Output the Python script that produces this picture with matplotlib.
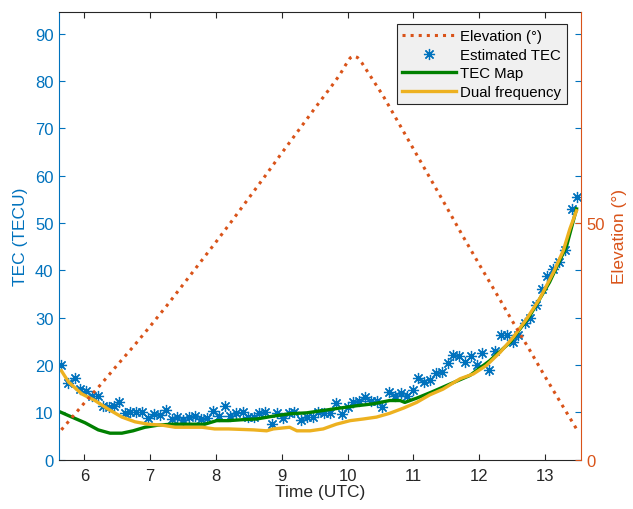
import matplotlib
matplotlib.use("Agg")
import matplotlib.pyplot as plt

plt.rcParams['font.family'] = ['Liberation Sans', 'DejaVu Sans']

# Estimated TEC (slant TEC from single-frequency estimate)
est_time = [5.65, 5.75, 5.85, 5.93, 6.02, 6.11, 6.20, 6.29, 6.38, 6.45,
            6.53, 6.62, 6.69, 6.78, 6.87, 6.97, 7.06, 7.15, 7.24, 7.33,
            7.41, 7.50, 7.59, 7.68, 7.77, 7.87, 7.95, 8.05, 8.14, 8.22,
            8.31, 8.41, 8.49, 8.58, 8.66, 8.75, 8.85, 8.93, 9.02, 9.11,
            9.19, 9.29, 9.38, 9.47, 9.55, 9.64, 9.73, 9.82, 9.91, 10.00,
            10.09, 10.18, 10.26, 10.36, 10.44, 10.53, 10.63, 10.72, 10.81, 10.90,
            10.99, 11.07, 11.16, 11.25, 11.35, 11.44, 11.53, 11.61, 11.70, 11.78,
            11.88, 11.96, 12.05, 12.15, 12.24, 12.33, 12.42, 12.51, 12.59, 12.69,
            12.77, 12.86, 12.95, 13.03, 13.12, 13.21, 13.30, 13.41, 13.48]
est_tec = [20.0, 16.1, 17.2, 14.9, 14.5, 13.5, 13.4, 11.3, 11.1, 11.3,
           12.1, 9.9, 10.0, 10.1, 10.0, 8.8, 9.6, 9.5, 10.5, 8.5,
           9.0, 8.4, 9.0, 9.3, 8.5, 8.8, 10.2, 9.3, 11.3, 9.3,
           9.9, 10.0, 9.0, 9.0, 9.8, 10.0, 7.5, 9.8, 8.8, 9.8,
           10.0, 8.4, 9.1, 9.1, 10.0, 9.8, 9.8, 12.0, 9.6, 11.1,
           12.1, 12.3, 13.2, 12.5, 12.5, 11.1, 14.4, 13.5, 14.0, 13.5,
           14.7, 17.3, 16.5, 16.9, 18.3, 18.6, 20.4, 22.2, 21.9, 20.6,
           21.9, 20.1, 22.6, 19.0, 23.0, 26.4, 26.4, 24.9, 26.4, 28.8,
           29.9, 32.7, 36.1, 38.9, 40.3, 41.7, 44.3, 53.0, 55.5]

# TEC from global ionosphere map
map_time = [5.63, 5.81, 6.01, 6.21, 6.39, 6.57, 6.74, 6.92, 7.12, 7.33,
            7.58, 7.83, 8.01, 8.19, 8.40, 8.62, 8.87, 9.12, 9.38, 9.63,
            9.88, 10.14, 10.39, 10.64, 10.80, 10.87, 11.05, 11.28, 11.56, 11.86,
            12.16, 12.47, 12.77, 13.07, 13.33, 13.48]
map_tec = [10.1, 9.0, 7.8, 6.3, 5.6, 5.6, 6.1, 6.85, 7.3, 7.5,
           7.5, 7.5, 8.25, 8.25, 8.45, 8.6, 9.2, 9.7, 9.9, 10.4,
           10.9, 11.4, 11.8, 12.5, 12.5, 12.1, 13.0, 14.3, 16.0, 17.8,
           20.9, 24.8, 30.4, 37.5, 45.2, 53.0]

# TEC from dual-frequency observations
dual_time = [5.65, 5.76, 5.96, 6.16, 6.36, 6.57, 6.77, 6.97, 7.18, 7.38,
             7.58, 7.79, 7.98, 8.19, 8.38, 8.57, 8.77, 8.87, 9.12, 9.23,
             9.43, 9.63, 9.83, 10.04, 10.24, 10.44, 10.64, 10.85, 11.05, 11.25,
             11.45, 11.71, 11.91, 12.11, 12.32, 12.52, 12.72, 12.92, 13.13, 13.28,
             13.38, 13.48]
dual_tec = [18.8, 16.4, 13.9, 12.5, 10.7, 9.0, 8.0, 7.5, 7.3, 6.85,
            6.85, 6.85, 6.5, 6.5, 6.4, 6.3, 6.1, 6.5, 6.85, 6.1,
            6.1, 6.5, 7.5, 8.25, 8.6, 9.0, 9.8, 10.9, 12.1, 13.7,
            14.9, 17.1, 18.1, 19.9, 22.7, 25.9, 29.7, 34.0, 39.6, 44.2,
            48.8, 52.6]

# Satellite elevation angle (degrees)
elev_time = [5.65, 6.00, 6.25, 6.50, 6.75, 7.00, 7.25, 7.50, 7.75, 8.00,
             8.25, 8.50, 8.75, 9.00, 9.25, 9.50, 9.75, 9.88, 9.97, 10.04,
             10.09, 10.15, 10.22, 10.35, 10.54, 10.75, 11.00, 11.25, 11.50, 11.75,
             12.00, 12.25, 12.50, 12.75, 13.00, 13.25, 13.48]
elev_deg = [6.3, 12.0, 15.9, 20.0, 24.0, 28.2, 32.5, 37.0, 41.5, 46.0,
            50.6, 55.3, 60.0, 64.8, 69.5, 74.2, 78.8, 81.3, 83.4, 84.9,
            85.3, 85.0, 83.8, 81.0, 76.9, 71.8, 65.7, 59.6, 53.5, 47.3,
            41.3, 35.4, 29.4, 23.6, 17.6, 11.8, 6.5]

tec_ticks = [0, 10, 20, 30, 40, 50, 60, 70, 80, 90]
elev_ticks = [0, 50]
time_ticks = [6, 7, 8, 9, 10, 11, 12, 13]

BLUE = '#0072BD'
ORANGE = '#D95319'
YELLOW = '#EDB120'
GREEN = '#008000'
DARK = '#262626'

fig = plt.figure(figsize=(6.33, 5.10), dpi=100)
ax = fig.add_axes([0.0932, 0.0967, 0.8242, 0.8778])
ax2 = ax.twinx()

ln_est, = ax.plot(est_time, est_tec, linestyle='none', marker=(8, 2, 0),
                  markersize=8, markeredgewidth=0.9, color=BLUE,
                  label='Estimated TEC')
ln_map, = ax.plot(map_time, map_tec, color=GREEN, linewidth=2.4,
                  label='TEC Map')
ln_dual, = ax.plot(dual_time, dual_tec, color=YELLOW, linewidth=2.4,
                   label='Dual frequency')
ln_elev, = ax2.plot(elev_time, elev_deg, color=ORANGE, linewidth=2.2,
                    linestyle=':', label='Elevation (°)')

ax.set_xlim(5.614, 13.544)
ax.set_ylim(0, 94.6)
ax2.set_ylim(0, 94.6)

ax.set_xticks(time_ticks)
ax.set_yticks(tec_ticks)
ax2.set_yticks(elev_ticks)

ax.tick_params(axis='x', direction='in', length=4, width=0.8, top=True,
               colors=DARK, labelsize=12, pad=6)
ax.tick_params(axis='y', direction='in', length=4, width=0.8, right=True,
               colors=BLUE, labelsize=12, pad=4)
ax2.tick_params(axis='y', direction='in', length=4, width=0.8,
                colors=ORANGE, labelsize=12, pad=4)

for side in ('top', 'bottom'):
    ax.spines[side].set_color(DARK)
    ax.spines[side].set_linewidth(0.8)
ax.spines['left'].set_color(BLUE)
ax.spines['left'].set_linewidth(0.8)
ax.spines['right'].set_visible(False)
ax2.spines['right'].set_color(ORANGE)
ax2.spines['right'].set_linewidth(0.8)
for side in ('left', 'top', 'bottom'):
    ax2.spines[side].set_visible(False)

ax.set_xlabel('Time (UTC)', fontsize=12.5, color=DARK, labelpad=1)
ax.set_ylabel('TEC (TECU)', fontsize=12.5, color=BLUE, labelpad=5)
ax2.set_ylabel('Elevation (°)', fontsize=12.5, color=ORANGE, labelpad=5)

leg = ax2.legend(handles=[ln_elev, ln_est, ln_map, ln_dual],
                 loc='upper right', bbox_to_anchor=(0.973, 0.973),
                 fontsize=10.8, frameon=True, fancybox=False,
                 handlelength=3.6, handletextpad=0.3, labelspacing=0.3,
                 borderpad=0.35, borderaxespad=0.0)
frame = leg.get_frame()
frame.set_facecolor('#F0F0F0')
frame.set_edgecolor(DARK)
frame.set_linewidth(0.8)
frame.set_alpha(1.0)

fig.savefig('out.png', dpi=100)
